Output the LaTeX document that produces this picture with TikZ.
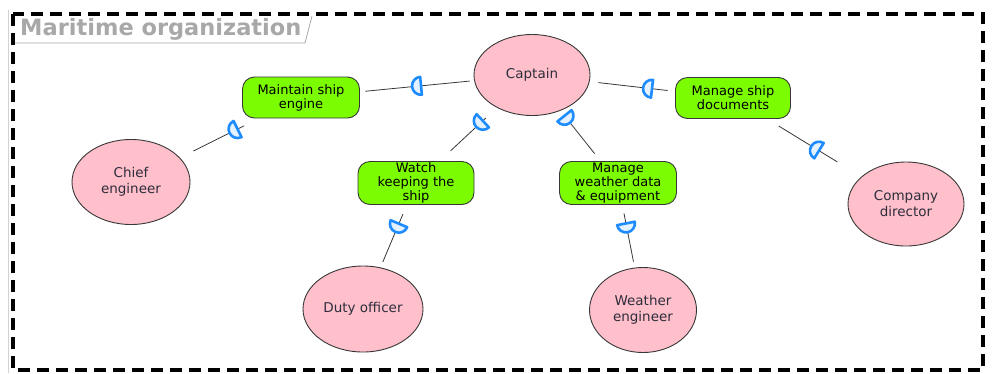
\documentclass[tikz,border=0pt]{standalone}
\usepackage{fontspec}
\setmainfont{DejaVu Sans}
\usetikzlibrary{shapes.geometric}
\definecolor{pinkfill}{RGB}{255,192,203}
\definecolor{goalgreen}{RGB}{124,252,0}
\definecolor{dblue}{RGB}{30,140,255}
\definecolor{dfill}{RGB}{228,242,255}
\definecolor{linegray}{RGB}{55,55,55}
\definecolor{titlegray}{RGB}{168,168,168}
\definecolor{acttext}{RGB}{45,45,60}
\begin{document}
\begin{tikzpicture}[x=1pt,y=-1pt,
  actor/.style={ellipse, draw=linegray, fill=pinkfill, line width=0.9pt, inner sep=0pt,
    minimum width=116pt, minimum height=84pt, align=center,
    font=\fontsize{13.5}{16}\selectfont, text=acttext},
  goal/.style={rectangle, rounded corners=12pt, draw=linegray, fill=goalgreen, line width=0.9pt,
    inner sep=0pt, minimum width=116pt, minimum height=41pt, align=center,
    font=\fontsize{13}{14}\selectfont, text=black},
  link/.style={draw=linegray, line width=0.8pt},
  dsym/.pic={\draw[dblue, fill=dfill, line width=2.6pt, line join=round]
    (0pt,-9pt) arc[start angle=-90, end angle=90, x radius=9pt, y radius=9pt] -- cycle;},
  dpos/.style={pos=#1, sloped, allow upside down}
]
\useasboundingbox (0,0) rectangle (992,373);

% boundary
\draw[gray!35, line width=0.8pt] (8,10) -- (8,373);
\draw[black, line width=3.2pt, dash pattern=on 12pt off 7pt] (13,14) rectangle (983,370);
\node[anchor=west, inner sep=0pt, text=titlegray, font=\bfseries\fontsize{22.5}{26}\selectfont] (title) at (20,29) {Maritime organization};
\draw[titlegray, line width=0.8pt] (15,43) -- (305,43) -- (312,16);

% nodes
\node[actor, minimum width=116pt, minimum height=81pt] (cap) at (532,75) {Captain};
\node[actor, minimum width=118pt, minimum height=85pt] (ce) at (131,182) {Chief\\engineer};
\node[actor, minimum width=120pt, minimum height=86pt] (do) at (363,309) {Duty officer};
\node[actor, minimum width=107pt, minimum height=85pt] (we) at (643,310) {Weather\\engineer};
\node[actor, minimum width=116pt, minimum height=84pt] (cd) at (906,204) {Company\\director};

\node[goal, minimum width=117pt] (mse) at (301,97.5) {Maintain ship\\engine};
\node[goal, minimum width=115pt] (msd) at (733,98) {Manage ship\\documents};
\node[goal, minimum height=43pt] (wk) at (416,183) {Watch\\keeping the\\ship};
\node[goal, minimum width=117pt, minimum height=43pt] (mwd) at (618,183) {Manage\\weather data\\\& equipment};

% connectors
\draw[link, shorten <=16.5pt, shorten >=15pt] (mse) -- (ce);
\draw[link, shorten <=4.6pt, shorten >=5.5pt] (cap) -- (mse);
\draw[link, shorten <=7.5pt, shorten >=8.8pt] (msd) -- (cap);
\draw[link, shorten <=28pt, shorten >=13.6pt] (cd) -- (msd);
\draw[link, shorten <=15pt, shorten >=15pt] (cap) -- (wk);
\draw[link, shorten <=12pt, shorten >=9.6pt] (cap) -- (mwd);
\draw[link, shorten <=10pt, shorten >=6pt] (wk) -- (do);
\draw[link, shorten <=8.7pt, shorten >=6pt] (mwd) -- (we);

% dependency symbols
\path (mse) -- (ce) pic[dpos=0.27] {dsym};
\path (cap) -- (mse) pic[dpos=0.465] {dsym};
\path (msd) -- (cap) pic[dpos=0.27] {dsym};
\path (cd) -- (msd) pic[dpos=0.45] {dsym};
\path (cap) -- (wk) pic[dpos=0.245] {dsym};
\path (cap) -- (mwd) pic[dpos=0.10] {dsym};
\path (wk) -- (do) pic[dpos=0.30] {dsym};
\path (mwd) -- (we) pic[dpos=0.295] {dsym};
\end{tikzpicture}
\end{document}
